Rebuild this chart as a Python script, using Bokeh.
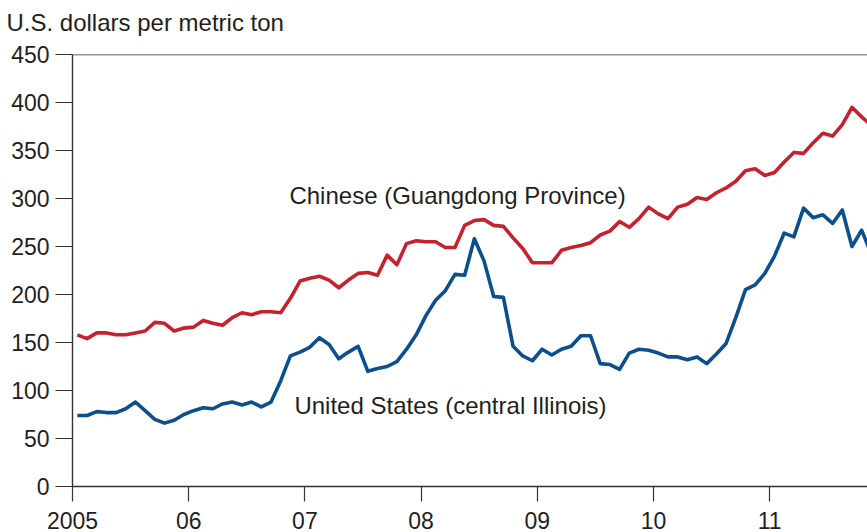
from bokeh.plotting import figure
from bokeh.models import Range1d, FixedTicker, Label, Span, Title
from bokeh.embed import file_html
from bokeh.resources import INLINE

# Monthly prices, Jan 2005 - Nov 2011 (U.S. dollars per metric ton)
chinese = [158, 154, 160, 160, 158, 158, 160, 162, 171, 170, 162, 165,
           166, 173, 170, 168, 176, 181, 179, 182, 182, 181, 196, 214,
           217, 219, 215, 207, 215, 222, 223, 220, 241, 231, 253, 256,
           255, 255, 249, 249, 272, 277, 278, 272, 271, 259, 248, 233,
           233, 233, 246, 249, 251, 254, 262, 266, 276, 270, 279, 291,
           284, 279, 291, 294, 301, 299, 306, 311, 318, 329, 331, 324,
           327, 338, 348, 347, 358, 368, 365, 377, 395, 385, 376]
us = [74, 74, 78, 77, 77, 81, 88, 79, 70, 66, 69, 75,
      79, 82, 81, 86, 88, 85, 88, 83, 88, 110, 136, 140,
      145, 155, 148, 133, 140, 146, 120, 123, 125, 130, 143, 158,
      178, 194, 204, 221, 220, 258, 235, 198, 197, 146, 136, 131,
      143, 137, 143, 146, 157, 157, 128, 127, 122, 139, 143, 142,
      139, 135, 135, 132, 135, 128, 138, 149, 176, 205, 210, 222,
      240, 264, 260, 290, 280, 283, 274, 288, 250, 267, 242]
start_year = 2005
year_ticks = [2005, 2006, 2007, 2008, 2009, 2010, 2011]
year_labels = ["2005", "06", "07", "08", "09", "10", "11"]
y_ticks = [0, 50, 100, 150, 200, 250, 300, 350, 400, 450]
y_title = "U.S. dollars per metric ton"
chinese_name = "Chinese (Guangdong Province)"
us_name = "United States (central Illinois)"

months = [start_year + (i + 0.5) / 12 for i in range(len(chinese))]

FONT = "Liberation Sans"
FS = "23px"
LFS = "24px"
TXT = "#231f20"
AX = "#333333"
RED = "#c8202f"
BLUE = "#0b4f8f"

p = figure(width=867, height=532, output_backend="svg", toolbar_location=None,
           x_range=Range1d(2005, 2011.842), y_range=Range1d(0, 450),
           min_border_left=72, min_border_right=0, min_border_top=54, min_border_bottom=46,
           background_fill_color="white", border_fill_color="white")
p.outline_line_color = None
p.xgrid.visible = False
p.ygrid.visible = False

p.title.text = y_title
p.title.align = "left"
p.title.offset = -66
p.title.standoff = 0
p.title.vertical_align = "top"
p.title.text_font = FONT
p.title.text_font_size = LFS
p.title.text_font_style = "normal"
p.title.text_color = TXT

# invisible spacer between the title and the frame
p.add_layout(Title(text=" ", text_font_size="1px", standoff=14, text_color="white"), "above")

p.line(months, chinese, line_color=RED, line_width=3.6, line_join="round")
p.line(months, us, line_color=BLUE, line_width=3.6, line_join="round")

p.add_layout(Span(location=450, dimension="width", line_color=AX, line_width=1.4))

xa = p.xaxis[0]
xa.ticker = FixedTicker(ticks=year_ticks)
xa.major_label_overrides = {t: l for t, l in zip(year_ticks, year_labels)}
xa.minor_tick_line_color = None
xa.major_tick_in = 0
xa.major_tick_out = 15
xa.major_label_standoff = 10
xa.axis_line_color = AX
xa.axis_line_width = 1.4
xa.major_tick_line_color = AX
xa.major_tick_line_width = 1.2

ya = p.yaxis[0]
ya.ticker = FixedTicker(ticks=y_ticks)
ya.minor_tick_line_color = None
ya.major_tick_in = 0
ya.major_tick_out = 17
ya.major_label_standoff = 6
ya.axis_line_color = AX
ya.axis_line_width = 1.4
ya.major_tick_line_color = AX
ya.major_tick_line_width = 1.2

for a in (xa, ya):
    a.major_label_text_font = FONT
    a.major_label_text_font_size = FS
    a.major_label_text_color = TXT

p.add_layout(Label(x=2006.867, y=303.5, text=chinese_name,
                   text_font=FONT, text_font_size=LFS, text_color=TXT,
                   text_baseline="alphabetic", text_align="left"))
p.add_layout(Label(x=2006.91, y=84.7, text=us_name,
                   text_font=FONT, text_font_size=LFS, text_color=TXT,
                   text_baseline="alphabetic", text_align="left"))

open("out.html", "w").write(file_html(p, INLINE))
